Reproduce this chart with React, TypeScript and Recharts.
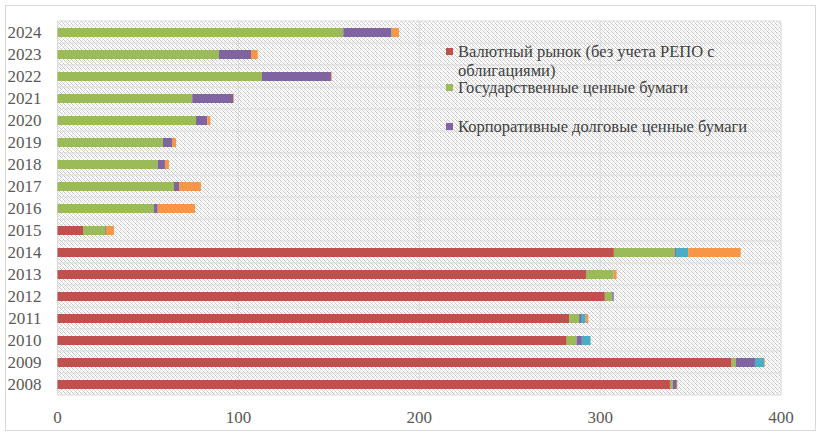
import React from 'react'
import { BarChart, Bar, XAxis, YAxis, CartesianGrid } from 'recharts'

const years = ['2008', '2009', '2010', '2011', '2012', '2013', '2014', '2015', '2016', '2017', '2018', '2019', '2020', '2021', '2022', '2023', '2024']
const currency = [338.6, 372.7, 281.5, 282.9, 302.6, 292.2, 307.6, 14.1, 0, 0, 0, 0, 0, 0, 0, 0, 0]
const govBonds = [1.6, 2.4, 5.5, 5.5, 4.1, 15.3, 33.6, 12.3, 53.2, 64.4, 55.4, 58.3, 76.6, 74.5, 113, 89.3, 158]
const corpBonds = [2.2, 10.5, 2.9, 1.0, 0.8, 0, 0.7, 0.4, 2.2, 2.8, 4.0, 5.0, 6.2, 22.7, 38.2, 17.7, 26.4]
const other1 = [0, 5.0, 4.8, 2.6, 0, 0, 6.8, 0, 0, 0, 0, 0, 0, 0, 0, 0, 0.4]
const other2 = [0.3, 0.4, 0, 1.4, 0, 1.6, 29.0, 4.4, 20.6, 12.1, 2.2, 2.2, 1.7, 0.4, 0.4, 3.7, 4.0]
const xTicks = [0, 100, 200, 300, 400]

const series = [
  { key: 'currency', name: 'Валютный рынок (без учета РЕПО с облигациями)', color: '#C0504D', legend: true },
  { key: 'gov', name: 'Государственные ценные бумаги', color: '#9BBB59', legend: true },
  { key: 'corp', name: 'Корпоративные долговые ценные бумаги', color: '#8064A2', legend: true },
  { key: 'other1', name: 'other1', color: '#4BACC6', legend: false },
  { key: 'other2', name: 'other2', color: '#F79646', legend: false },
]

const data = years.map((y, i) => ({
  year: y,
  currency: currency[i],
  gov: govBonds[i],
  corp: corpBonds[i],
  other1: other1[i],
  other2: other2[i],
}))

const FONT = '"Liberation Serif", "Times New Roman", serif'
const TEXT = '#595959'

// легенда как в Excel: три записи, стоят не вплотную
const LegendBox = () => {
  const tops = [42, 78, 117]
  return (
    <div style={{ position: 'absolute', left: 446, top: 0, width: 340, fontFamily: FONT, fontSize: 16.5, color: '#404040' }}>
      {series.filter(s => s.legend).map((s, i) => (
        <div key={s.key} style={{ position: 'absolute', left: 0, top: tops[i], width: 330, lineHeight: '19.4px' }}>
          <span style={{ position: 'absolute', left: 0, top: 6, width: 7, height: 7, background: s.color }} />
          <div style={{ marginLeft: 12 }}>{s.name}</div>
        </div>
      ))}
    </div>
  )
}

export default function App() {
  return (
    <div style={{ position: 'absolute', left: 0, top: 0, width: 823, height: 439, background: '#fff' }}>
      <div style={{ position: 'absolute', left: 5, top: 5, width: 809, height: 424, border: '1px solid #d9d9d9' }} />
      <div style={{ position: 'absolute', left: 0, top: 0 }}>
        <BarChart
          width={823}
          height={439}
          data={data}
          layout="vertical"
          margin={{ top: 21, right: 42, bottom: 14, left: 0 }}
          barSize={9}
        >
          <defs>
            <pattern id="hatch" width="4" height="4" patternUnits="userSpaceOnUse">
              <rect width="4" height="4" fill="#ffffff" />
              <rect x="0" y="0" width="1" height="1" fill="#c4c4c4" />
              <rect x="1" y="1" width="1" height="1" fill="#c4c4c4" />
              <rect x="2" y="2" width="1" height="1" fill="#dcdcdc" />
              <rect x="3" y="3" width="1" height="1" fill="#c4c4c4" />
              <rect x="2" y="0" width="1" height="1" fill="#e4e4e4" />
              <rect x="0" y="2" width="1" height="1" fill="#e4e4e4" />
            </pattern>
          </defs>
          <CartesianGrid
            fill="url(#hatch)"
            stroke="#d9d9d9"
            horizontalCoordinatesGenerator={({ offset }: any) =>
              years.map((_, i) => offset.top + (offset.height * i) / years.length).concat(offset.top + offset.height)
            }
          />
          <XAxis
            type="number"
            domain={[0, 400]}
            ticks={xTicks}
            axisLine={false}
            tickLine={false}
            tickMargin={10}
            height={30}
            tick={{ fill: TEXT, fontSize: 17, fontFamily: FONT }}
          />
          <YAxis
            type="category"
            dataKey="year"
            reversed
            width={57.5}
            axisLine={false}
            tickLine={false}
            tickMargin={10}
            interval={0}
            tick={{ fill: TEXT, fontSize: 17, fontFamily: FONT }}
          />
          {series.map(s => (
            <Bar key={s.key} dataKey={s.key} name={s.name} stackId="a" fill={s.color} isAnimationActive={false} />
          ))}
        </BarChart>
      </div>
      <LegendBox />
    </div>
  )
}
